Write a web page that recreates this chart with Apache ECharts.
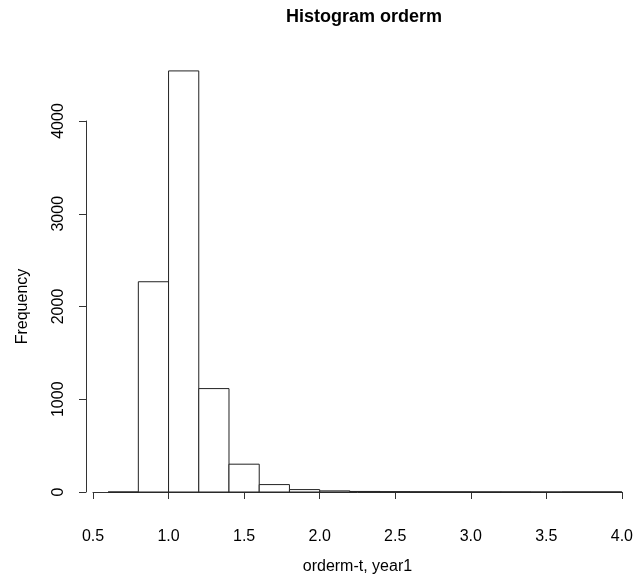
<!DOCTYPE html>
<html>
<head>
<meta charset="utf-8">
<script src="https://cdn.jsdelivr.net/npm/echarts@6/dist/echarts.min.js"></script>
<style>
html, body { margin: 0; padding: 0; background: #fff; }
#hist_chart { width: 636px; height: 587px; }
</style>
</head>
<body>
<div id="hist_chart"></div>
<script>
// bins: 0.6 .. 4.0, width 0.2
var binStart = 0.6;
var binWidth = 0.2;
var counts = [0, 2267, 4540, 1115, 300, 80, 26, 12, 6, 4, 3, 2, 1, 1, 0, 1, 1];
var xTicks = [0.5, 1.0, 1.5, 2.0, 2.5, 3.0, 3.5, 4.0];
var yTicks = [0, 1000, 2000, 3000, 4000];

var bins = counts.map(function (c, i) {
    var lo = +(binStart + i * binWidth).toFixed(1);
    return [lo, +(lo + binWidth).toFixed(1), c];
});

var myChart = echarts.init(document.getElementById('hist_chart'));
var font = 'Liberation Sans, Arial, Helvetica, sans-serif';
option = {
    animation: false,
    backgroundColor: '#fff',
    title: {
        text: 'Histogram orderm',
        left: 359,
        textAlign: 'center',
        top: 3,
        textStyle: { fontFamily: font, fontSize: 18, fontWeight: 'bold', color: '#000' }
    },
    grid: {
        left: 93,
        right: 11,
        top: 121,
        bottom: 95
    },
    xAxis: {
        type: 'value',
        min: xTicks[0],
        max: xTicks[xTicks.length - 1],
        interval: 0.5,
        offset: 21,
        name: 'orderm-t, year1',
        nameLocation: 'middle',
        nameGap: 46,
        nameTextStyle: { fontFamily: font, fontSize: 16, color: '#000' },
        splitLine: { show: false },
        axisLine: { show: true, lineStyle: { color: '#333', width: 1 } },
        axisTick: { show: true, length: 7, lineStyle: { color: '#333' } },
        axisLabel: {
            margin: 16,
            fontFamily: font,
            fontSize: 16,
            color: '#000',
            formatter: function (v) { return v.toFixed(1); }
        }
    },
    yAxis: {
        type: 'value',
        min: yTicks[0],
        max: yTicks[yTicks.length - 1],
        interval: 1000,
        offset: 7,
        name: 'Frequency',
        nameLocation: 'middle',
        nameGap: 55,
        nameTextStyle: { fontFamily: font, fontSize: 16, color: '#000' },
        splitLine: { show: false },
        axisLine: { show: true, lineStyle: { color: '#333', width: 1 } },
        axisTick: { show: true, length: 7, lineStyle: { color: '#333' } },
        axisLabel: {
            rotate: 90,
            margin: 19,
            fontFamily: font,
            fontSize: 16,
            color: '#000',
            formatter: function (v) { return String(v); }
        }
    },
    series: [
        {
            type: 'custom',
            clip: false,
            data: bins,
            renderItem: function (params, api) {
                var p0 = api.coord([api.value(0), 0]);
                var p1 = api.coord([api.value(1), api.value(2)]);
                return {
                    type: 'rect',
                    shape: {
                        x: p0[0],
                        y: p1[1],
                        width: p1[0] - p0[0],
                        height: p0[1] - p1[1]
                    },
                    style: { fill: '#fff', stroke: '#222', lineWidth: 1 }
                };
            }
        }
    ]
};
myChart.setOption(option);
</script>
</body>
</html>
